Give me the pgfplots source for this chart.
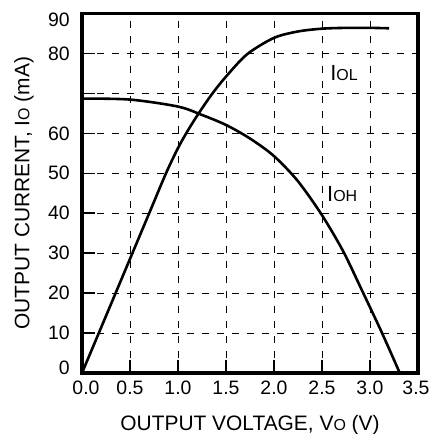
\documentclass[border=0pt]{standalone}
\usepackage{pgfplots}
\pgfplotsset{compat=1.18}
\usepackage{fontspec}
\setmainfont{Liberation Sans}
\begin{document}
\begin{tikzpicture}
\begin{axis}[
  scale only axis,
  width=336bp, height=359.5bp,
  xmin=0, xmax=3.5, ymin=0, ymax=90,
  xtick={0,0.5,1,1.5,2,2.5,3,3.5},
  xticklabels={\hspace*{8bp}0.0,0.5,1.0,1.5,2.0,2.5,3.0,3.5\hspace*{4bp}},
  ytick={0,10,20,30,40,50,60,70,80,90},
  yticklabels={\raisebox{0pt}[\height][\dimexpr\depth+10bp\relax]{0},10,20,30,40,50,60,,80,\raisebox{0pt}[\dimexpr\height+12bp\relax][\depth]{90}},
  /pgf/number format/assume math mode=true,
  tick pos=left, tick align=inside,
  major tick length=13bp,
  major tick style={line width=1.5bp, black},
  grid=major,
  major grid style={dash pattern=on 7bp off 8bp, line width=1bp, black},
  axis line style={line width=3.3bp},
  tick label style={font=\fontsize{19.5}{21}\selectfont, inner sep=0pt},
  x tick label style={anchor=north, yshift=-8bp},
  y tick label style={anchor=east, xshift=-12bp, rotate=0},
  clip=false,
]
\addplot[black, line width=2.6bp, smooth] coordinates {
  (0,0) (0.35,20) (0.7,40) (0.875,50) (1.0,56.3) (1.1,60.6) (1.21,64.8)
  (1.35,69.7) (1.5,74.2) (1.72,79.8) (2.0,83.9) (2.25,85.5) (2.5,86.2)
  (2.75,86.4) (3.0,86.4) (3.2,86.3)
};
\addplot[black, line width=2.6bp, smooth] coordinates {
  (0,68.7) (0.5,68.45) (1.0,66.7) (1.25,64.6) (1.5,62.1) (1.75,58.7)
  (2.0,54.3) (2.25,48) (2.5,39.5) (2.72,30.5) (2.91,21) (3.12,10.3) (3.31,0)
};
\node[inner sep=0pt] at (axis cs:2.73,75) {\fontsize{22}{24}\selectfont I\fontsize{16}{18}\selectfont OL};
\node[inner sep=0pt] at (axis cs:2.71,44.9) {\fontsize{22}{24}\selectfont I\fontsize{16}{18}\selectfont OH};
\node[anchor=north, inner sep=0pt, font=\fontsize{21}{23}\selectfont]
  at ([yshift=-42bp]rel axis cs:0.5,0) {OUTPUT VOLTAGE, V{\fontsize{16}{18}\selectfont O} (V)};
\node[anchor=south, rotate=90, inner sep=0pt, font=\fontsize{21}{23}\selectfont]
  at ([xshift=-48bp]rel axis cs:0,0.5) {OUTPUT CURRENT, I{\fontsize{16}{18}\selectfont O} (mA)};
\coordinate (sw) at (rel axis cs:0,0);
\coordinate (ne) at (rel axis cs:1,1);
\end{axis}
\pgfresetboundingbox
\path[use as bounding box] ([shift={(-82bp,-61bp)}]sw) rectangle ([shift={(12bp,13.5bp)}]ne);
\end{tikzpicture}
\end{document}
